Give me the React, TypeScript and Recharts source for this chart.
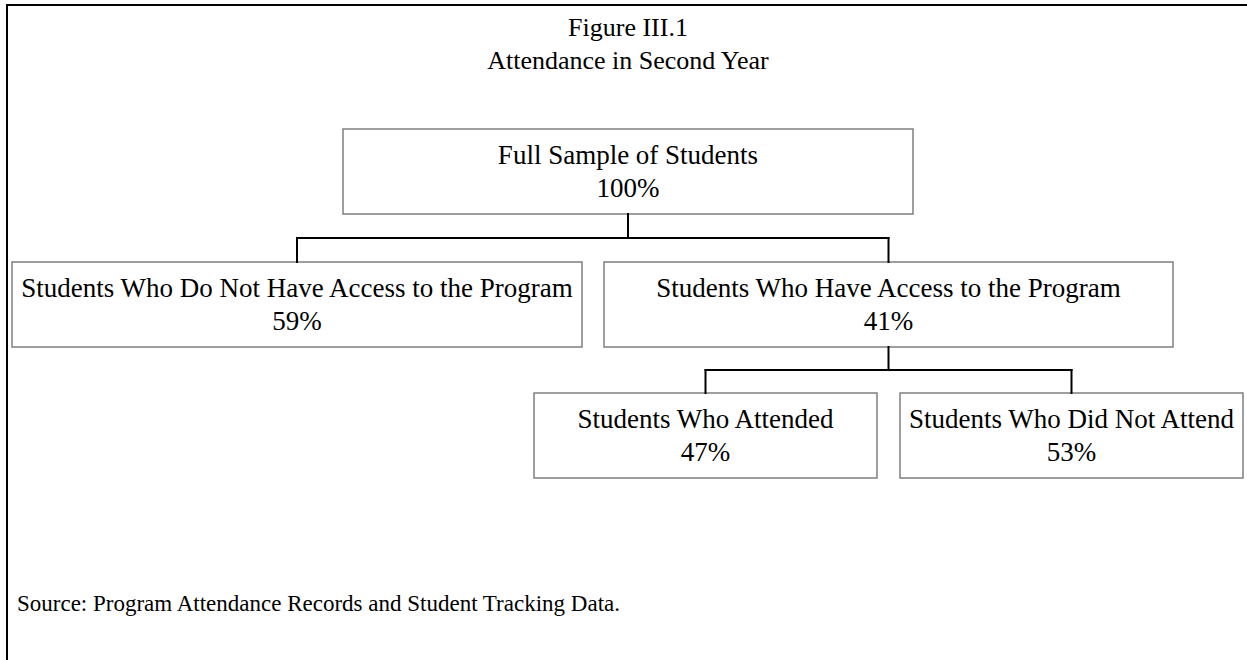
import { ReferenceArea, ReferenceLine, Scatter, ScatterChart, XAxis, YAxis } from "recharts"

const SERIF = '"Liberation Serif", "Times New Roman", serif'

const titleLines = ["Figure III.1", "Attendance in Second Year"]
const sourceNote = "Source: Program Attendance Records and Student Tracking Data."

// tree nodes
const nodeLabels = [
  "Full Sample of Students",
  "Students Who Do Not Have Access to the Program",
  "Students Who Have Access to the Program",
  "Students Who Attended",
  "Students Who Did Not Attend",
]
const nodeShares = [100, 59, 41, 47, 53]
const nodeParents = [-1, 0, 0, 2, 2]
const nodeLevels = [0, 1, 1, 2, 2]

// layout in chart units (x: 0..1247, y: 0..660 top-down)
const boxLeft = [343, 12, 604, 534, 900]
const boxRight = [913, 582, 1173, 877, 1243]
const levelTop = [129, 262, 393]
const levelBottom = [214, 347, 478]

const W = 1247
const H = 660

const nodes = nodeLabels.map((label, i) => ({
  label,
  share: `${nodeShares[i]}%`,
  x: (boxLeft[i] + boxRight[i]) / 2,
  y: levelTop[nodeLevels[i]],
}))

type Seg = [{ x: number; y: number }, { x: number; y: number }]

function connectorSegments(): Seg[] {
  const segs: Seg[] = []
  nodeLabels.forEach((_, p) => {
    const kids = nodeParents.map((q, i) => (q === p ? i : -1)).filter((i) => i >= 0)
    if (!kids.length) return
    const px = nodes[p].x
    const lvl = nodeLevels[p]
    const bus = (levelBottom[lvl] + levelTop[lvl + 1]) / 2
    const xs = kids.map((k) => nodes[k].x)
    segs.push([{ x: px, y: levelBottom[lvl] }, { x: px, y: bus }])
    segs.push([{ x: Math.min(...xs), y: bus }, { x: Math.max(...xs), y: bus }])
    kids.forEach((k) => {
      segs.push([{ x: nodes[k].x, y: bus }, { x: nodes[k].x, y: levelTop[nodeLevels[k]] }])
    })
  })
  return segs
}

function NodeText(props: any) {
  const { cx, cy, payload } = props
  return (
    <g fontFamily={SERIF} fontSize={27} fill="#000" textAnchor="middle">
      <text x={cx} y={cy + 35}>{payload.label}</text>
      <text x={cx} y={cy + 68}>{payload.share}</text>
    </g>
  )
}

export default function App() {
  const segs = connectorSegments()
  return (
    <div style={{ position: "absolute", left: 0, top: 0, width: W, height: H, background: "#fff" }}>
      <div
        style={{
          position: "absolute",
          left: 6,
          top: 4,
          width: W,
          height: H,
          borderTop: "2px solid #000",
          borderLeft: "2px solid #000",
        }}
      />
      <div
        style={{
          position: "absolute",
          left: 628 - 300,
          top: 11,
          width: 600,
          textAlign: "center",
          fontFamily: SERIF,
          fontSize: 26,
          lineHeight: "33px",
        }}
      >
        {titleLines.map((t) => (
          <div key={t}>{t}</div>
        ))}
      </div>
      <ScatterChart width={W} height={H} margin={{ top: 0, right: 0, bottom: 0, left: 0 }}>
        <XAxis type="number" dataKey="x" domain={[0, W]} hide />
        <YAxis type="number" dataKey="y" domain={[0, H]} reversed hide />
        {nodes.map((n, i) => (
          <ReferenceArea
            key={n.label}
            x1={boxLeft[i]}
            x2={boxRight[i]}
            y1={levelTop[nodeLevels[i]]}
            y2={levelBottom[nodeLevels[i]]}
            fill="#fff"
            fillOpacity={1}
            stroke="#7f7f7f"
            strokeWidth={1.5}
          />
        ))}
        {segs.map((s, i) => (
          <ReferenceLine key={i} segment={s} stroke="#000" strokeWidth={2} strokeLinecap="square" />
        ))}
        <Scatter data={nodes} shape={NodeText} isAnimationActive={false} />
      </ScatterChart>
      <div
        style={{
          position: "absolute",
          left: 17,
          top: 591,
          fontFamily: SERIF,
          fontSize: 23,
          whiteSpace: "nowrap",
        }}
      >
        {sourceNote}
      </div>
    </div>
  )
}
